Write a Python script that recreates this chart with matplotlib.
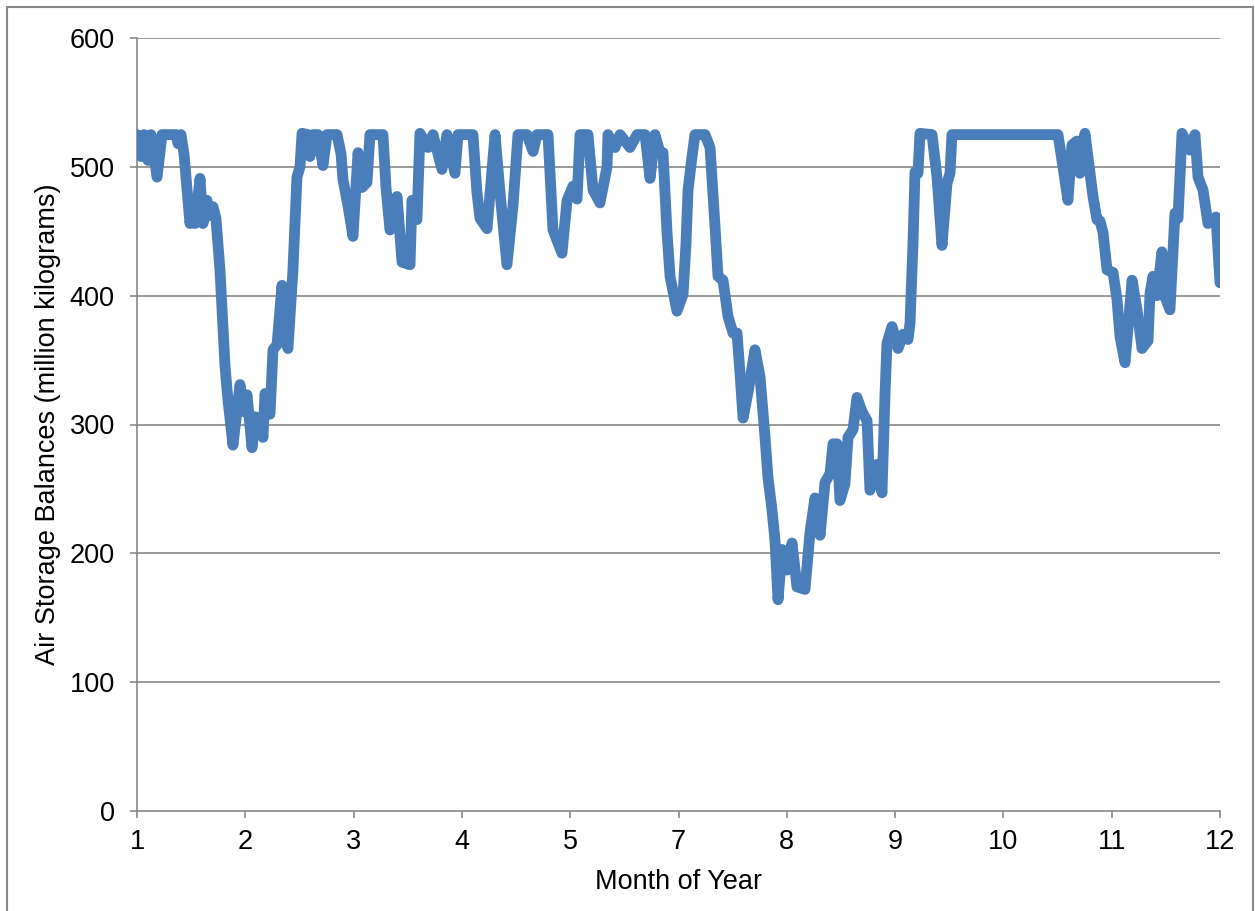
import matplotlib
matplotlib.use("Agg")
import matplotlib.pyplot as plt
from matplotlib.patches import Rectangle

# x position in units of tick spacing (tick i carries month_labels[i])
x_pos = [0.000, 0.037, 0.065, 0.102, 0.129, 0.185, 0.231, 0.360, 0.379, 0.406, 0.434,
         0.489, 0.517, 0.536, 0.582, 0.609, 0.646, 0.665, 0.702, 0.729, 0.766, 0.813,
         0.840, 0.886, 0.951, 0.988, 1.016, 1.062, 1.090, 1.136, 1.163, 1.182, 1.228,
         1.256, 1.293, 1.339, 1.367, 1.394, 1.440, 1.477, 1.505, 1.524, 1.579, 1.597,
         1.625, 1.671, 1.717, 1.754, 1.847, 1.884, 1.902, 1.948, 1.994, 2.041, 2.078,
         2.124, 2.151, 2.225, 2.271, 2.299, 2.336, 2.401, 2.447, 2.521, 2.539, 2.585,
         2.613, 2.687, 2.733, 2.816, 2.862, 2.936, 2.964, 3.102, 3.139, 3.167, 3.232,
         3.306, 3.352, 3.416, 3.472, 3.518, 3.601, 3.657, 3.693, 3.795, 3.841, 3.924,
         3.971, 4.026, 4.063, 4.091, 4.164, 4.211, 4.275, 4.340, 4.349, 4.414, 4.460,
         4.552, 4.617, 4.691, 4.737, 4.783, 4.829, 4.857, 4.894, 4.922, 4.986, 5.042,
         5.069, 5.088, 5.125, 5.152, 5.245, 5.291, 5.337, 5.365, 5.411, 5.457, 5.503,
         5.540, 5.568, 5.596, 5.642, 5.706, 5.753, 5.799, 5.826, 5.863, 5.891, 5.919,
         5.956, 6.002, 6.048, 6.094, 6.168, 6.214, 6.260, 6.307, 6.353, 6.399, 6.427,
         6.464, 6.491, 6.537, 6.565, 6.611, 6.648, 6.694, 6.741, 6.768, 6.833, 6.879,
         6.907, 6.925, 6.971, 7.027, 7.073, 7.119, 7.138, 7.165, 7.184, 7.211, 7.230,
         7.341, 7.387, 7.433, 7.479, 7.507, 7.525, 8.504, 8.550, 8.596, 8.633,
         8.680, 8.707, 8.753, 8.800, 8.827, 8.864, 8.892, 8.920, 8.957, 9.012,
         9.049, 9.077, 9.123, 9.188, 9.234, 9.280, 9.335, 9.354, 9.381, 9.418,
         9.464, 9.493, 9.538, 9.584, 9.612, 9.649, 9.723, 9.769, 9.797, 9.843,
         9.889, 9.963, 10.000]

balance = [525, 508, 525, 505, 525, 492, 525, 525, 518, 525, 510,
           456, 470, 456, 491, 456, 474, 462, 469, 460, 420, 345,
           319, 284, 331, 310, 323, 282, 306, 304, 290, 324, 308,
           358, 362, 408, 366, 359, 420, 492, 500, 526, 525, 508,
           525, 525, 501, 525, 525, 510, 490, 470, 446, 511, 484,
           488, 525, 525, 525, 484, 451, 477, 426, 424, 474, 459,
           526, 515, 525, 498, 525, 495, 525, 525, 480, 460, 452,
           525, 480, 424, 470, 525, 525, 512, 525, 525, 451, 433,
           474, 485, 475, 525, 525, 482, 472, 500, 525, 515, 525,
           515, 525, 525, 491, 525, 511, 511, 449, 415, 388, 401,
           440, 482, 508, 525, 525, 515, 454, 415, 412, 384, 371,
           371, 340, 305, 325, 358, 337, 290, 259, 234, 210, 164,
           203, 187, 208, 174, 172, 216, 243, 214, 255, 262, 285,
           285, 241, 254, 290, 296, 321, 310, 303, 249, 269, 247,
           324, 363, 376, 359, 370, 366, 379, 440, 496, 495, 526,
           525, 492, 439, 487, 495, 525, 525, 500, 474, 517,
           520, 495, 526, 495, 477, 459, 458, 449, 420, 418,
           397, 368, 348, 412, 389, 359, 365, 402, 415, 400,
           434, 399, 389, 464, 460, 526, 513, 525, 492, 482,
           456, 461, 410]

month_labels = ['1', '2', '3', '4', '5', '7', '8', '9', '10', '11', '12']
y_ticks = [0, 100, 200, 300, 400, 500, 600]

plt.rcParams['font.family'] = ['Liberation Sans', 'DejaVu Sans']

fig = plt.figure(figsize=(12.55, 9.11), dpi=100)
ax = fig.add_axes([137/1255, 1 - 811/911, (1220-137)/1255, (811-38)/911])

grid_c = '#878787'
for yv in y_ticks[1:]:
    ax.axhline(yv, color=grid_c, lw=1.2, zorder=1)

ax.plot(x_pos, balance, color='#4a7ebb', lw=7.8, solid_joinstyle='round',
        solid_capstyle='round', zorder=3)

ax.set_xlim(0, len(month_labels) - 1)
ax.set_ylim(0, 600)
ax.set_xticks(range(len(month_labels)))
ax.set_xticklabels(month_labels)
ax.set_yticks(y_ticks)
for s in ['top', 'right']:
    ax.spines[s].set_visible(False)
for s in ['left', 'bottom']:
    ax.spines[s].set_color(grid_c)
    ax.spines[s].set_linewidth(1.2)
ax.tick_params(axis='both', direction='out', length=5, width=1.2, color=grid_c,
               labelsize=19.5, labelcolor='black')
ax.tick_params(axis='x', pad=8)
ax.tick_params(axis='y', pad=11)
ax.set_xlabel('Month of Year', fontsize=19.5, labelpad=10)
ax.set_ylabel('Air Storage Balances (million kilograms)', fontsize=19.5, labelpad=6)

fig.patches.append(Rectangle((7/1255, -0.01), (1253-7)/1255, 1.01 - 7/911,
                             transform=fig.transFigure, fill=False,
                             edgecolor='#878787', lw=1.5))

fig.savefig('out.png', dpi=100)
